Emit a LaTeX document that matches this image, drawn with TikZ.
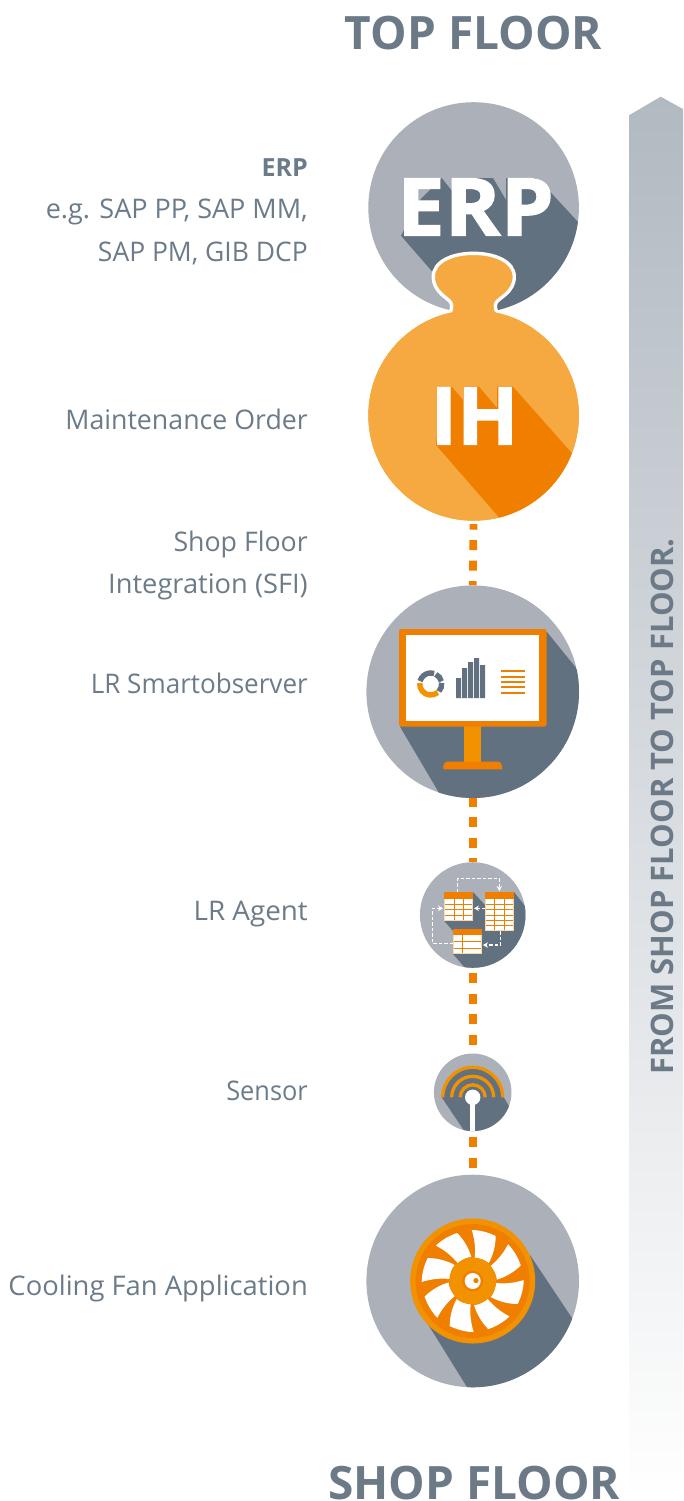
\documentclass[tikz,border=0pt]{standalone}
\usepackage{fontspec}
\setmainfont{Open Sans}
\newfontfamily\heavy{Open Sans}[UprightFont=* Bold,FakeBold=1.6]
\usetikzlibrary{arrows.meta}
\definecolor{cgray}{HTML}{ABB0B9}
\definecolor{cdark}{HTML}{627180}
\definecolor{clight}{HTML}{F6A941}
\definecolor{corange}{HTML}{F07F00}
\definecolor{cyell}{HTML}{F39200}
\definecolor{ctext}{HTML}{6C7B89}
\definecolor{ctitle}{HTML}{6C7A88}
\definecolor{cpale}{HTML}{FAD6A8}
\definecolor{arrtop}{HTML}{B1B9C1}
\definecolor{arrmid}{HTML}{CDD1D7}
\tikzset{
  disc/.style={circle,inner sep=0pt,fill=cgray,minimum size=#1},
  lbl/.style={anchor=base east,font=\fontsize{27}{27}\selectfont,text=ctext,inner sep=0pt},
  ttl/.style={font=\bfseries\fontsize{46}{46}\selectfont,text=ctitle,inner sep=0pt},
  dots/.style={draw=corange,line width=7.7pt},
  flow/.style={draw=white,line width=1.4pt,dash pattern=on 3.5pt off 2pt},
  flowtip/.style={flow,-{Stealth[length=5pt,width=5.5pt]}},
  grid/.style={draw=corange,line width=.8pt},
  shade/.style={fill=cdark},
}
\newcommand{\tablebox}[7]{% x0 y0 x1 y1 headbottom verticals horizontals
  \fill[white] (#1,#2) rectangle (#3,#4);
  \draw[cpale,line width=1pt] (#1+.5,#2+.5) rectangle (#3-.5,#4-.5);
  \fill[corange] (#1,#2) rectangle (#3,#5);
  \foreach \xx in {#6}{\draw[grid] (\xx,#5) -- (\xx,#4-1);}
  \foreach \yy in {#7}{\draw[grid] (#1+1,\yy) -- (#3-1,\yy);}
}
\begin{document}
\begin{tikzpicture}[x=1pt,y=-1pt]
\useasboundingbox (0,0) rectangle (683,1501);
% gradient arrow
\path[top color=arrtop,middle color=arrmid,bottom color=white]
  (629.5,1501) -- (629.5,115) -- (660.7,96.7) -- (683,109) -- (683,1501) -- cycle;
\node[rotate=90,font=\bfseries\fontsize{31}{31}\selectfont,text=ctitle,inner sep=0pt] (flowlabel) at (662,806.5) {FROM SHOP FLOOR TO TOP FLOOR.};
\node[ttl] (topfloor) at (473.5,33) {TOP FLOOR};
\node[ttl,anchor=base] (shopfloor) at (474,1499.5) {SHOP FLOOR};
% discs
\node[disc=210.6pt] (erp) at (473.6,207.5) {};
\node[disc=210.6pt,fill=clight] (ih) at (473.6,415.4) {};
\node[disc=212.6pt] (mon) at (472.7,691.7) {};
\node[disc=105.6pt] (agent) at (472.7,915) {};
\node[disc=77.6pt] (sensor) at (472.7,1092.3) {};
\node[disc=212.6pt] (fan) at (472.7,1281) {};
% connectors
\draw[dots,dash pattern=on 0pt off 3.3pt on 5.5pt off 10.5pt on 10pt off 10.4pt on 10pt off 10.6pt on 10pt off 50pt] (ih.south) -- (mon.north);
\draw[dots,dash pattern=on 10pt off 10.5pt,dash phase=1.3pt] (mon.south) -- (agent.north);
\draw[dots,dash pattern=on 10pt off 10.6pt,dash phase=15.7pt] (agent.south) -- (sensor.north);
\draw[dots,dash pattern=on 10pt off 10.6pt,dash phase=15pt] (sensor.south) -- (fan.north);
% ERP
\begin{scope}
\clip (473.6,207.5) circle (105.3);
\fill[shade] (401,235.7) -- (490,338) -- (620,338) -- (620,267) -- (578,222) -- (550,191.7) -- (535,178) -- (506,178) -- (506,200) -- (493,178) -- (456,178) -- (452,191) -- (441.7,178) -- (420,200) -- cycle;
\end{scope}
\draw[white,line width=3.4pt,fill=clight] (445,316) .. controls (452,314) and (452.5,306) .. (451,303)
  .. controls (449,298) and (433.3,293) .. (433.3,276.7)
  .. controls (433.3,261) and (453,253.3) .. (473.6,253.3)
  .. controls (494,253.3) and (514.3,261) .. (514.3,276.7)
  .. controls (514.3,293) and (498,298) .. (496,303)
  .. controls (494.5,306) and (495,314) .. (502.7,316) -- cycle;
\fill[clight] (473.6,415.4) circle (105.3);
\node[font=\heavy\fontsize{80}{80}\selectfont,text=white,inner sep=0pt,xscale=1.06] (erptext) at (475.5,207) {ERP};
% IH
\begin{scope}
\clip (473.6,415.4) circle (105.3);
\fill[corange] (436,445) -- (510,530) -- (600,530) -- (600,485) -- (571.7,453) -- (513,386.7) -- (497,386.7) -- (497,408) -- (479,386.7) -- (463,386.7) -- (463,400) -- (451.7,386.7) -- (440,410) -- cycle;
\end{scope}
\node[font=\heavy\fontsize{80}{80}\selectfont,text=white,inner sep=0pt] (ihtext) at (474.5,416) {IH};
% monitor
\begin{scope}
\clip (472.7,691.7) circle (106.3);
\fill[shade] (400,726.7) -- (445,803) -- (620,803) -- (620,722) -- (546.7,631.7) -- (500,680) -- cycle;
\end{scope}
\fill[cyell] (464,726) rectangle (481,762);
\fill[corange] (443.3,769.3) -- (443.3,766) arc[start angle=180,end angle=270,radius=4.5] -- (497.5,761.5) arc[start angle=270,end angle=360,radius=4.5] -- (502,769.3) -- cycle;
\fill[corange,rounded corners=2.5pt] (399,629) rectangle (546.7,726.7);
\fill[white] (405.7,635) rectangle (539.3,721);
\draw[cdark,line width=5.4pt] (430.7,684) ++(-62:11) arc[start angle=-62,end angle=-14,radius=11];
\draw[cdark,line width=5.4pt] (430.7,684) ++(-72:11) arc[start angle=-72,end angle=-165,radius=11];
\draw[cyell,line width=5.4pt] (430.7,684) ++(50:11) arc[start angle=50,end angle=185,radius=11];
\draw[cdark,line width=5.4pt] (430.7,684) ++(-6:11) arc[start angle=-6,end angle=42,radius=11];
\fill[cdark] (456,678) rectangle (461,698) (462,668) rectangle (467,698) (468,662) rectangle (473,698) (474,658) rectangle (479,698) (480,665) rectangle (485,698);
\foreach \ly in {671,677,682,687,693}{\fill[corange] (501,\ly-1) rectangle (525,\ly+1);}
% agent
\begin{scope}
\clip (472.7,915) circle (52.8);
\fill[shade] (444,920.7) -- (453,931) -- (453,954) -- (480,985) -- (540,985) -- (540,925) -- (514,892) -- (490,900) -- (485,905) -- (473,892) -- (460,905) -- cycle;
\end{scope}
\tablebox{444}{892}{473}{920.7}{898.7}{454,463.5}{904,909.5,915}
\tablebox{485}{892}{514}{931}{898.7}{494.5,504.5}{904,909.5,915,920,925.5}
\tablebox{453}{929}{482}{954}{935.3}{462.5}{941.5,948}
\coordinate (t1top) at (457.7,892); \coordinate (a1) at (457.7,878.3); \coordinate (a2) at (499.3,878.3); \coordinate (t2top) at (499.3,891);
\draw[flowtip] (t1top) -- (a1) -- (a2) -- (t2top);
\coordinate (t3l) at (453,943.7); \coordinate (b1) at (432.3,943.7); \coordinate (b2) at (432.3,908.3); \coordinate (t1l) at (443,908.3);
\draw[flowtip] (t3l) -- (b1) -- (b2) -- (t1l);
\coordinate (t2l) at (485,908.3); \coordinate (t1r) at (474,908.3);
\draw[flowtip] (t2l) -- (t1r);
\coordinate (t2b) at (500.7,931); \coordinate (c1) at (500.7,945); \coordinate (t3r) at (483,945);
\draw[flowtip] (t2b) -- (c1) -- (t3r);
% sensor
\begin{scope}
\clip (472.7,1092.3) circle (38.8);
\fill[shade] (441.7,1097.3) arc[start angle=180,end angle=360,radius=31] -- (508.3,1105) -- (530,1135) -- (480,1140) -- (467,1135) -- cycle;
\end{scope}
\foreach \rr in {12.5,21,30}{\draw[cyell,line width=3.3pt] (472.7,1097.3) ++(180:\rr) arc[start angle=180,end angle=360,radius=\rr];}
\fill[white] (472.7,1097.3) circle (7.7);
\begin{scope}
\clip (472.7,1092.3) circle (38.8);
\fill[white] (470.2,1097) rectangle (475.2,1135);
\end{scope}
% fan
\begin{scope}
\clip (472.7,1281) circle (106.3);
\fill[shade] (423.3,1316.7) -- (475,1400) -- (620,1400) -- (620,1390) -- (530,1255) -- cycle;
\end{scope}
\fill[cyell] (472.7,1281) circle (62.5);
\fill[corange] (472.7,1281) circle (57);
\foreach \aa in {0,45,...,315}{
  \fill[white,shift={(472.7,1281)},rotate=\aa] (-1,-51) .. controls (8,-51) and (17,-48) .. (23,-45)
    .. controls (23,-35) and (20,-25) .. (16,-18)
    .. controls (13,-21) and (8,-22.7) .. (2,-23)
    .. controls (3,-32) and (2,-42) .. (-1,-51) -- cycle;
}
\fill[cyell] (472.7,1281) circle (23.5);
\fill[corange] (472.7,1281) circle (10.5);
\fill[white] (472.7,1281) circle (8);
\fill[corange] (476,1280.6) circle (2.6);
% labels
\node[lbl,font=\bfseries\fontsize{25}{26}\selectfont] (l1) at (308,176) {ERP};
\node[lbl] (l2) at (308,218.5) {e.g. SAP PP, SAP MM,};
\node[lbl,xscale=.98] (l3) at (308,261) {SAP PM, GIB DCP};
\node[lbl,xscale=.99] (l4) at (308,429.5) {Maintenance Order};
\node[lbl,xscale=.99] (l5) at (308,551) {Shop Floor};
\node[lbl,xscale=1.01] (l6) at (308,593.5) {Integration (SFI)};
\node[lbl,xscale=.965] (l7) at (308,693.5) {LR Smartobserver};
\node[lbl,xscale=1.03] (l8) at (308,920.5) {LR Agent};
\node[lbl,xscale=.94] (l9) at (308,1100) {Sensor};
\node[lbl,xscale=1.014] (l10) at (308,1295.5) {Cooling Fan Application};
\end{tikzpicture}
\end{document}
